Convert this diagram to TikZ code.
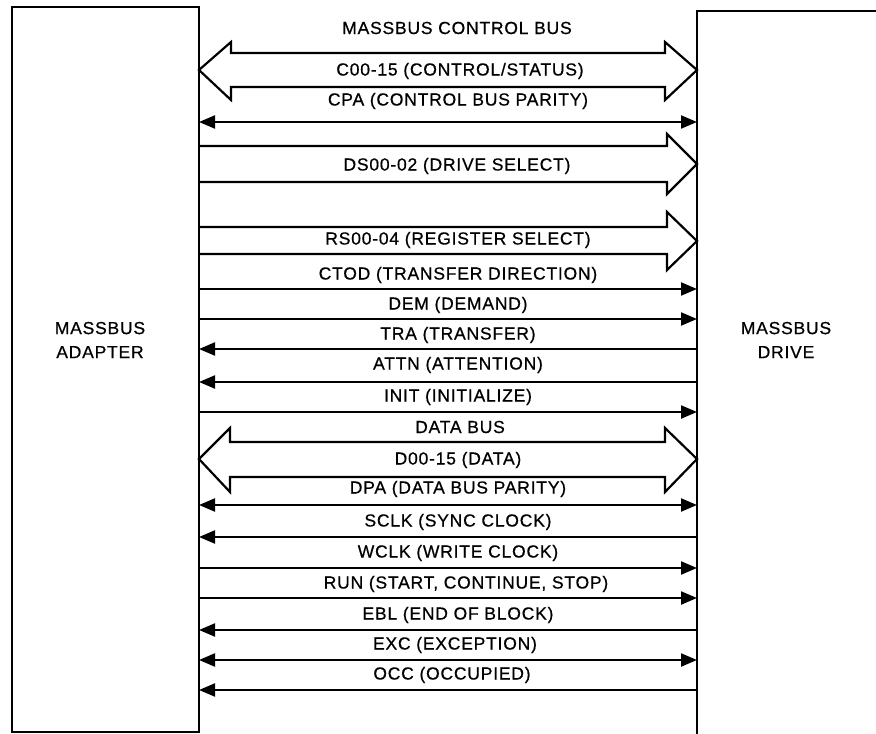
\documentclass[tikz,border=0pt]{standalone}
\usepackage{fontspec}
\setmainfont{Liberation Sans}[LetterSpace=4.5,FakeBold=0.6]
\usetikzlibrary{arrows.meta}
\begin{document}
\begin{tikzpicture}[x=1pt,y=-1pt,
  box/.style={draw,line width=2.6pt,inner sep=0pt,outer sep=0pt,anchor=north west},
  bus/.style={draw,line width=2.2pt,line join=miter},
  sig/.style={draw,line width=2.2pt},
  tipR/.style={-{Triangle[length=16pt,width=13pt]}},
  tipL/.style={{Triangle[length=16pt,width=13pt]}-},
  tipB/.style={{Triangle[length=16pt,width=13pt]}-{Triangle[length=16pt,width=13pt]}},
  lbl/.style={inner sep=0pt,font=\fontsize{17.5}{24}\selectfont,align=center}]
\useasboundingbox (0,0) rectangle (876,734);
\node[box,minimum width=187pt,minimum height=725pt] (adapter) at (12,7) {};
\node[box,minimum width=300pt,minimum height=800pt] (drive) at (697,11) {};
\node[lbl] (adl) at (100,340) {MASSBUS\\ADAPTER};
\node[lbl] (drl) at (786,340) {MASSBUS\\DRIVE};
% control bus
\draw[bus] (adapter.east |- 0,70) -- (231,42) -- (231,53) -- (665,53) -- (665,42)
  -- (drive.west |- 0,70) -- (665,100) -- (665,87) -- (231,87) -- (231,100) -- cycle;
\draw[bus] (adapter.east |- 0,146) -- (667,146) -- (667,134) -- (drive.west |- 0,164)
  -- (667,194) -- (667,182) -- (adapter.east |- 0,182);
\draw[bus] (adapter.east |- 0,227) -- (667,227) -- (667,212) -- (drive.west |- 0,241)
  -- (667,270) -- (667,254) -- (adapter.east |- 0,254);
% data bus
\draw[bus] (adapter.east |- 0,459) -- (230,428) -- (230,442) -- (665,442) -- (665,428)
  -- (drive.west |- 0,459) -- (665,492) -- (665,477) -- (230,477) -- (230,492) -- cycle;
% signals
\draw[sig,tipB] (adapter.east |- 0,122) -- (drive.west |- 0,122);
\draw[sig,tipR] (adapter.east |- 0,289) -- (drive.west |- 0,289);
\draw[sig,tipR] (adapter.east |- 0,319) -- (drive.west |- 0,319);
\draw[sig,tipL] (adapter.east |- 0,349) -- (drive.west |- 0,349);
\draw[sig,tipL] (adapter.east |- 0,382) -- (drive.west |- 0,382);
\draw[sig,tipR] (adapter.east |- 0,412) -- (drive.west |- 0,412);
\draw[sig,tipB] (adapter.east |- 0,505) -- (drive.west |- 0,505);
\draw[sig,tipL] (adapter.east |- 0,537) -- (drive.west |- 0,537);
\draw[sig,tipR] (adapter.east |- 0,568) -- (drive.west |- 0,568);
\draw[sig,tipR] (adapter.east |- 0,598) -- (drive.west |- 0,598);
\draw[sig,tipL] (adapter.east |- 0,630) -- (drive.west |- 0,630);
\draw[sig,tipB] (adapter.east |- 0,660) -- (drive.west |- 0,660);
\draw[sig,tipL] (adapter.east |- 0,690) -- (drive.west |- 0,690);
% labels
\node[lbl] (t1) at (457,28) {MASSBUS CONTROL BUS};
\node[lbl] (t2) at (460,71) {C00-15 (CONTROL/STATUS)};
\node[lbl] (t3) at (458,101) {CPA (CONTROL BUS PARITY)};
\node[lbl] (t4) at (457,166) {DS00-02 (DRIVE SELECT)};
\node[lbl] (t5) at (458,240) {RS00-04 (REGISTER SELECT)};
\node[lbl] (t6) at (458,275) {CTOD (TRANSFER DIRECTION)};
\node[lbl] (t7) at (458,305) {DEM (DEMAND)};
\node[lbl] (t8) at (458,335) {TRA (TRANSFER)};
\node[lbl] (t9) at (458,365) {ATTN (ATTENTION)};
\node[lbl] (t10) at (458,397) {INIT (INITIALIZE)};
\node[lbl] (t11) at (460,427) {DATA BUS};
\node[lbl] (t12) at (458,460) {D00-15 (DATA)};
\node[lbl] (t13) at (458,489) {DPA (DATA BUS PARITY)};
\node[lbl] (t14) at (458,522) {SCLK (SYNC CLOCK)};
\node[lbl] (t15) at (458,553) {WCLK (WRITE CLOCK)};
\node[lbl] (t16) at (466,584) {RUN (START, CONTINUE, STOP)};
\node[lbl] (t17) at (458,615) {EBL (END OF BLOCK)};
\node[lbl] (t18) at (455,645) {EXC (EXCEPTION)};
\node[lbl] (t19) at (452,675) {OCC (OCCUPIED)};
\end{tikzpicture}
\end{document}
